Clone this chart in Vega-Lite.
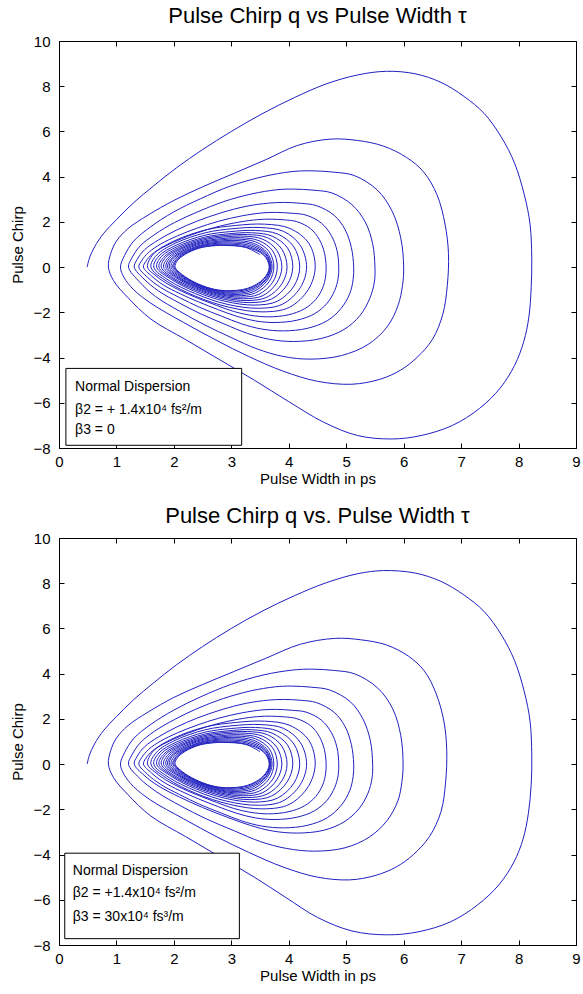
{
  "$schema": "https://vega.github.io/schema/vega-lite/v6.json",
  "background": "white",
  "padding": {"left": 10, "top": 4, "right": 5, "bottom": 5},
  "config": {
    "font": "Liberation Sans",
    "view": {"stroke": "#000000", "strokeWidth": 1},
    "axis": {
      "grid": false, "domain": false, "tickColor": "#000000", "tickSize": -5, "tickWidth": 1,
      "labelFlush": false, "labelOverlap": false,
      "labelFont": "Liberation Sans", "labelFontSize": 15, "labelColor": "#000000",
      "titleFont": "Liberation Sans", "titleFontSize": 15, "titleColor": "#000000", "titleFontWeight": "normal"
    },
    "title": {"font": "Liberation Sans", "fontSize": 22, "fontWeight": "normal", "color": "#000000", "anchor": "middle", "frame": "group"}
  },
  "datasets": {
    "spiral": [
      {"panel":"top","tau":0.49,"q":0},{"panel":"top","tau":0.53,"q":0.4},{"panel":"top","tau":0.62,"q":0.9},{"panel":"top","tau":0.78,"q":1.5},{"panel":"top","tau":1.0,"q":2.1},{"panel":"top","tau":1.3,"q":2.85},{"panel":"top","tau":1.65,"q":3.6},{"panel":"top","tau":2.05,"q":4.4},{"panel":"top","tau":2.5,"q":5.2},{"panel":"top","tau":3.0,"q":6.0},{"panel":"top","tau":3.55,"q":6.8},{"panel":"top","tau":4.1,"q":7.5},{"panel":"top","tau":4.65,"q":8.1},{"panel":"top","tau":5.2,"q":8.5},{"panel":"top","tau":5.7,"q":8.66},{"panel":"top","tau":6.2,"q":8.55},{"panel":"top","tau":6.65,"q":8.17},{"panel":"top","tau":7.05,"q":7.55},{"panel":"top","tau":7.4,"q":6.8},{"panel":"top","tau":7.7,"q":5.75},{"panel":"top","tau":7.93,"q":4.6},{"panel":"top","tau":8.1,"q":3.2},{"panel":"top","tau":8.2,"q":1.9},{"panel":"top","tau":8.23,"q":0.4},{"panel":"top","tau":8.22,"q":-0.9},{"panel":"top","tau":8.18,"q":-2.2},{"panel":"top","tau":8.09,"q":-3.3},{"panel":"top","tau":7.93,"q":-4.35},{"panel":"top","tau":7.68,"q":-5.35},{"panel":"top","tau":7.32,"q":-6.25},{"panel":"top","tau":6.85,"q":-7.0},{"panel":"top","tau":6.3,"q":-7.45},{"panel":"top","tau":5.8,"q":-7.6},{"panel":"top","tau":5.2,"q":-7.45},{"panel":"top","tau":4.6,"q":-6.85},{"panel":"top","tau":4.0,"q":-5.95},{"panel":"top","tau":3.4,"q":-5.0},{"panel":"top","tau":2.8,"q":-4.1},{"panel":"top","tau":2.2,"q":-3.2},{"panel":"top","tau":1.6,"q":-2.3},{"panel":"top","tau":1.2,"q":-1.35},{"panel":"top","tau":0.95,"q":-0.6},{"panel":"top","tau":0.86,"q":0},
      {"panel":"top","tau":0.9,"q":0.6},{"panel":"top","tau":1.0,"q":1.15},{"panel":"top","tau":1.2,"q":1.7},{"panel":"top","tau":1.55,"q":2.3},{"panel":"top","tau":2.0,"q":2.95},{"panel":"top","tau":2.5,"q":3.55},{"panel":"top","tau":3.05,"q":4.15},{"panel":"top","tau":3.6,"q":4.75},{"panel":"top","tau":4.15,"q":5.38},{"panel":"top","tau":4.72,"q":5.66},{"panel":"top","tau":5.2,"q":5.6},{"panel":"top","tau":5.65,"q":5.35},{"panel":"top","tau":6.05,"q":4.85},{"panel":"top","tau":6.35,"q":4.2},{"panel":"top","tau":6.58,"q":3.2},{"panel":"top","tau":6.72,"q":1.9},{"panel":"top","tau":6.78,"q":0.6},{"panel":"top","tau":6.76,"q":-0.8},{"panel":"top","tau":6.68,"q":-2.1},{"panel":"top","tau":6.5,"q":-3.2},{"panel":"top","tau":6.23,"q":-4.0},{"panel":"top","tau":5.95,"q":-4.55},{"panel":"top","tau":5.6,"q":-4.95},{"panel":"top","tau":5.1,"q":-5.18},{"panel":"top","tau":4.5,"q":-5.05},{"panel":"top","tau":3.9,"q":-4.6},{"panel":"top","tau":3.3,"q":-3.95},{"panel":"top","tau":2.75,"q":-3.25},{"panel":"top","tau":2.17,"q":-2.45},{"panel":"top","tau":1.6,"q":-1.6},{"panel":"top","tau":1.3,"q":-1.0},{"panel":"top","tau":1.13,"q":-0.45},{"panel":"top","tau":1.07,"q":0},
      {"panel":"top","tau":1.14,"q":0.51},{"panel":"top","tau":1.3,"q":1.15},{"panel":"top","tau":1.6,"q":1.79},{"panel":"top","tau":1.99,"q":2.43},{"panel":"top","tau":2.46,"q":3.02},{"panel":"top","tau":2.98,"q":3.58},{"panel":"top","tau":3.55,"q":4.0},{"panel":"top","tau":4.04,"q":4.22},{"panel":"top","tau":4.37,"q":4.26},{"panel":"top","tau":4.78,"q":4.2},{"panel":"top","tau":5.14,"q":4.05},{"panel":"top","tau":5.54,"q":3.41},{"panel":"top","tau":5.8,"q":2.47},{"panel":"top","tau":5.95,"q":1.28},{"panel":"top","tau":6.0,"q":0},{"panel":"top","tau":5.98,"q":-0.81},{"panel":"top","tau":5.9,"q":-1.71},{"panel":"top","tau":5.71,"q":-2.65},{"panel":"top","tau":5.38,"q":-3.42},{"panel":"top","tau":4.92,"q":-3.91},{"panel":"top","tau":4.37,"q":-4.07},{"panel":"top","tau":3.9,"q":-3.95},{"panel":"top","tau":3.45,"q":-3.62},{"panel":"top","tau":3.01,"q":-3.13},{"panel":"top","tau":2.54,"q":-2.56},{"panel":"top","tau":2.1,"q":-1.95},{"panel":"top","tau":1.68,"q":-1.3},{"panel":"top","tau":1.4,"q":-0.65},{"panel":"top","tau":1.21,"q":0},
      {"panel":"top","tau":1.27,"q":0.41},{"panel":"top","tau":1.41,"q":0.93},{"panel":"top","tau":1.67,"q":1.45},{"panel":"top","tau":2.01,"q":1.97},{"panel":"top","tau":2.42,"q":2.45},{"panel":"top","tau":2.87,"q":2.9},{"panel":"top","tau":3.36,"q":3.24},{"panel":"top","tau":3.79,"q":3.42},{"panel":"top","tau":4.08,"q":3.45},{"panel":"top","tau":4.44,"q":3.4},{"panel":"top","tau":4.75,"q":3.28},{"panel":"top","tau":5.1,"q":2.76},{"panel":"top","tau":5.33,"q":2.0},{"panel":"top","tau":5.46,"q":1.04},{"panel":"top","tau":5.5,"q":0},{"panel":"top","tau":5.49,"q":-0.66},{"panel":"top","tau":5.41,"q":-1.38},{"panel":"top","tau":5.24,"q":-2.14},{"panel":"top","tau":4.96,"q":-2.76},{"panel":"top","tau":4.56,"q":-3.16},{"panel":"top","tau":4.08,"q":-3.29},{"panel":"top","tau":3.66,"q":-3.19},{"panel":"top","tau":3.28,"q":-2.93},{"panel":"top","tau":2.89,"q":-2.53},{"panel":"top","tau":2.47,"q":-2.07},{"panel":"top","tau":2.09,"q":-1.58},{"panel":"top","tau":1.73,"q":-1.05},{"panel":"top","tau":1.48,"q":-0.53},{"panel":"top","tau":1.31,"q":0},

      {"panel":"bottom","tau":0.49,"q":0},{"panel":"bottom","tau":0.53,"q":0.4},{"panel":"bottom","tau":0.62,"q":0.9},{"panel":"bottom","tau":0.78,"q":1.5},{"panel":"bottom","tau":1.0,"q":2.1},{"panel":"bottom","tau":1.3,"q":2.85},{"panel":"bottom","tau":1.65,"q":3.6},{"panel":"bottom","tau":2.05,"q":4.4},{"panel":"bottom","tau":2.5,"q":5.2},{"panel":"bottom","tau":3.0,"q":6.0},{"panel":"bottom","tau":3.55,"q":6.78},{"panel":"bottom","tau":4.1,"q":7.45},{"panel":"bottom","tau":4.65,"q":8.02},{"panel":"bottom","tau":5.2,"q":8.42},{"panel":"bottom","tau":5.65,"q":8.56},{"panel":"bottom","tau":6.2,"q":8.45},{"panel":"bottom","tau":6.65,"q":8.08},{"panel":"bottom","tau":7.05,"q":7.48},{"panel":"bottom","tau":7.4,"q":6.75},{"panel":"bottom","tau":7.7,"q":5.72},{"panel":"bottom","tau":7.93,"q":4.58},{"panel":"bottom","tau":8.1,"q":3.2},{"panel":"bottom","tau":8.2,"q":1.9},{"panel":"bottom","tau":8.23,"q":0.4},{"panel":"bottom","tau":8.22,"q":-0.9},{"panel":"bottom","tau":8.17,"q":-2.2},{"panel":"bottom","tau":8.08,"q":-3.3},{"panel":"bottom","tau":7.92,"q":-4.33},{"panel":"bottom","tau":7.66,"q":-5.33},{"panel":"bottom","tau":7.29,"q":-6.22},{"panel":"bottom","tau":6.82,"q":-6.97},{"panel":"bottom","tau":6.25,"q":-7.42},{"panel":"bottom","tau":5.7,"q":-7.55},{"panel":"bottom","tau":5.1,"q":-7.38},{"panel":"bottom","tau":4.5,"q":-6.78},{"panel":"bottom","tau":3.95,"q":-5.9},{"panel":"bottom","tau":3.4,"q":-5.0},{"panel":"bottom","tau":2.8,"q":-4.1},{"panel":"bottom","tau":2.2,"q":-3.2},{"panel":"bottom","tau":1.6,"q":-2.3},{"panel":"bottom","tau":1.2,"q":-1.35},{"panel":"bottom","tau":0.95,"q":-0.6},{"panel":"bottom","tau":0.86,"q":0},
      {"panel":"bottom","tau":0.9,"q":0.6},{"panel":"bottom","tau":1.0,"q":1.15},{"panel":"bottom","tau":1.2,"q":1.7},{"panel":"bottom","tau":1.55,"q":2.3},{"panel":"bottom","tau":2.0,"q":2.95},{"panel":"bottom","tau":2.5,"q":3.52},{"panel":"bottom","tau":3.05,"q":4.1},{"panel":"bottom","tau":3.6,"q":4.68},{"panel":"bottom","tau":4.2,"q":5.3},{"panel":"bottom","tau":4.8,"q":5.56},{"panel":"bottom","tau":5.25,"q":5.5},{"panel":"bottom","tau":5.7,"q":5.27},{"panel":"bottom","tau":6.08,"q":4.78},{"panel":"bottom","tau":6.36,"q":4.12},{"panel":"bottom","tau":6.56,"q":3.15},{"panel":"bottom","tau":6.7,"q":1.9},{"panel":"bottom","tau":6.75,"q":0.6},{"panel":"bottom","tau":6.73,"q":-0.8},{"panel":"bottom","tau":6.65,"q":-2.1},{"panel":"bottom","tau":6.45,"q":-3.2},{"panel":"bottom","tau":6.17,"q":-4.0},{"panel":"bottom","tau":5.87,"q":-4.55},{"panel":"bottom","tau":5.5,"q":-4.93},{"panel":"bottom","tau":5.06,"q":-5.12},{"panel":"bottom","tau":4.5,"q":-5.0},{"panel":"bottom","tau":3.9,"q":-4.55},{"panel":"bottom","tau":3.3,"q":-3.9},{"panel":"bottom","tau":2.75,"q":-3.22},{"panel":"bottom","tau":2.17,"q":-2.42},{"panel":"bottom","tau":1.6,"q":-1.6},{"panel":"bottom","tau":1.3,"q":-1.0},{"panel":"bottom","tau":1.13,"q":-0.45},{"panel":"bottom","tau":1.07,"q":0},
      {"panel":"bottom","tau":1.14,"q":0.5},{"panel":"bottom","tau":1.3,"q":1.13},{"panel":"bottom","tau":1.6,"q":1.76},{"panel":"bottom","tau":2.0,"q":2.39},{"panel":"bottom","tau":2.47,"q":2.98},{"panel":"bottom","tau":3.0,"q":3.53},{"panel":"bottom","tau":3.57,"q":3.95},{"panel":"bottom","tau":4.07,"q":4.16},{"panel":"bottom","tau":4.4,"q":4.2},{"panel":"bottom","tau":4.8,"q":4.14},{"panel":"bottom","tau":5.15,"q":3.99},{"panel":"bottom","tau":5.55,"q":3.36},{"panel":"bottom","tau":5.81,"q":2.44},{"panel":"bottom","tau":5.95,"q":1.26},{"panel":"bottom","tau":5.99,"q":0},{"panel":"bottom","tau":5.97,"q":-0.77},{"panel":"bottom","tau":5.9,"q":-1.62},{"panel":"bottom","tau":5.71,"q":-2.5},{"panel":"bottom","tau":5.4,"q":-3.23},{"panel":"bottom","tau":4.98,"q":-3.7},{"panel":"bottom","tau":4.45,"q":-3.85},{"panel":"bottom","tau":3.96,"q":-3.73},{"panel":"bottom","tau":3.51,"q":-3.43},{"panel":"bottom","tau":3.06,"q":-2.96},{"panel":"bottom","tau":2.57,"q":-2.43},{"panel":"bottom","tau":2.12,"q":-1.85},{"panel":"bottom","tau":1.7,"q":-1.23},{"panel":"bottom","tau":1.4,"q":-0.62},{"panel":"bottom","tau":1.21,"q":0},
      {"panel":"bottom","tau":1.27,"q":0.41},{"panel":"bottom","tau":1.41,"q":0.93},{"panel":"bottom","tau":1.66,"q":1.45},{"panel":"bottom","tau":2.01,"q":1.97},{"panel":"bottom","tau":2.4,"q":2.45},{"panel":"bottom","tau":2.86,"q":2.9},{"panel":"bottom","tau":3.34,"q":3.24},{"panel":"bottom","tau":3.77,"q":3.42},{"panel":"bottom","tau":4.05,"q":3.45},{"panel":"bottom","tau":4.4,"q":3.4},{"panel":"bottom","tau":4.71,"q":3.28},{"panel":"bottom","tau":5.07,"q":2.76},{"panel":"bottom","tau":5.29,"q":2.0},{"panel":"bottom","tau":5.42,"q":1.04},{"panel":"bottom","tau":5.46,"q":0},{"panel":"bottom","tau":5.45,"q":-0.61},{"panel":"bottom","tau":5.38,"q":-1.28},{"panel":"bottom","tau":5.22,"q":-1.98},{"panel":"bottom","tau":4.96,"q":-2.56},{"panel":"bottom","tau":4.6,"q":-2.93},{"panel":"bottom","tau":4.15,"q":-3.05},{"panel":"bottom","tau":3.72,"q":-2.96},{"panel":"bottom","tau":3.33,"q":-2.71},{"panel":"bottom","tau":2.93,"q":-2.35},{"panel":"bottom","tau":2.5,"q":-1.92},{"panel":"bottom","tau":2.1,"q":-1.46},{"panel":"bottom","tau":1.74,"q":-0.98},{"panel":"bottom","tau":1.48,"q":-0.49},{"panel":"bottom","tau":1.31,"q":0},

      {"panel":"both","tau":1.36,"q":0.34},{"panel":"both","tau":1.49,"q":0.77},{"panel":"both","tau":1.73,"q":1.2},{"panel":"both","tau":2.04,"q":1.63},{"panel":"both","tau":2.4,"q":2.03},{"panel":"both","tau":2.82,"q":2.4},{"panel":"both","tau":3.26,"q":2.69},{"panel":"both","tau":3.65,"q":2.83},{"panel":"both","tau":3.91,"q":2.86},{"panel":"both","tau":4.22,"q":2.82},{"panel":"both","tau":4.48,"q":2.72},{"panel":"both","tau":4.79,"q":2.29},{"panel":"both","tau":4.98,"q":1.66},{"panel":"both","tau":5.09,"q":0.86},{"panel":"both","tau":5.13,"q":0},{"panel":"both","tau":5.12,"q":-0.56},{"panel":"both","tau":5.06,"q":-1.18},{"panel":"both","tau":4.91,"q":-1.83},{"panel":"both","tau":4.67,"q":-2.37},{"panel":"both","tau":4.32,"q":-2.71},{"panel":"both","tau":3.91,"q":-2.82},{"panel":"both","tau":3.53,"q":-2.74},{"panel":"both","tau":3.18,"q":-2.51},{"panel":"both","tau":2.83,"q":-2.17},{"panel":"both","tau":2.45,"q":-1.78},{"panel":"both","tau":2.1,"q":-1.35},{"panel":"both","tau":1.77,"q":-0.9},{"panel":"both","tau":1.54,"q":-0.45},{"panel":"both","tau":1.39,"q":0},
      {"panel":"both","tau":1.44,"q":0.29},{"panel":"both","tau":1.56,"q":0.65},{"panel":"both","tau":1.77,"q":1.02},{"panel":"both","tau":2.06,"q":1.38},{"panel":"both","tau":2.4,"q":1.72},{"panel":"both","tau":2.78,"q":2.03},{"panel":"both","tau":3.19,"q":2.27},{"panel":"both","tau":3.55,"q":2.4},{"panel":"both","tau":3.79,"q":2.42},{"panel":"both","tau":4.06,"q":2.38},{"panel":"both","tau":4.3,"q":2.3},{"panel":"both","tau":4.57,"q":1.94},{"panel":"both","tau":4.74,"q":1.4},{"panel":"both","tau":4.84,"q":0.73},{"panel":"both","tau":4.87,"q":0},{"panel":"both","tau":4.86,"q":-0.49},{"panel":"both","tau":4.8,"q":-1.03},{"panel":"both","tau":4.67,"q":-1.59},{"panel":"both","tau":4.45,"q":-2.06},{"panel":"both","tau":4.14,"q":-2.35},{"panel":"both","tau":3.76,"q":-2.45},{"panel":"both","tau":3.42,"q":-2.38},{"panel":"both","tau":3.1,"q":-2.18},{"panel":"both","tau":2.78,"q":-1.89},{"panel":"both","tau":2.43,"q":-1.54},{"panel":"both","tau":2.11,"q":-1.18},{"panel":"both","tau":1.81,"q":-0.78},{"panel":"both","tau":1.61,"q":-0.39},{"panel":"both","tau":1.47,"q":0},
      {"panel":"both","tau":1.51,"q":0.25},{"panel":"both","tau":1.62,"q":0.57},{"panel":"both","tau":1.82,"q":0.89},{"panel":"both","tau":2.09,"q":1.21},{"panel":"both","tau":2.4,"q":1.51},{"panel":"both","tau":2.75,"q":1.78},{"panel":"both","tau":3.13,"q":1.99},{"panel":"both","tau":3.46,"q":2.1},{"panel":"both","tau":3.68,"q":2.12},{"panel":"both","tau":3.92,"q":2.09},{"panel":"both","tau":4.14,"q":2.01},{"panel":"both","tau":4.38,"q":1.7},{"panel":"both","tau":4.53,"q":1.23},{"panel":"both","tau":4.62,"q":0.64},{"panel":"both","tau":4.65,"q":0},{"panel":"both","tau":4.64,"q":-0.44},{"panel":"both","tau":4.59,"q":-0.92},{"panel":"both","tau":4.47,"q":-1.43},{"panel":"both","tau":4.27,"q":-1.85},{"panel":"both","tau":3.99,"q":-2.11},{"panel":"both","tau":3.65,"q":-2.2},{"panel":"both","tau":3.33,"q":-2.13},{"panel":"both","tau":3.04,"q":-1.96},{"panel":"both","tau":2.74,"q":-1.69},{"panel":"both","tau":2.43,"q":-1.39},{"panel":"both","tau":2.13,"q":-1.06},{"panel":"both","tau":1.86,"q":-0.7},{"panel":"both","tau":1.67,"q":-0.35},{"panel":"both","tau":1.54,"q":0},
      {"panel":"both","tau":1.64,"q":0.57},{"panel":"both","tau":1.99,"q":1.14},{"panel":"both","tau":2.56,"q":1.65},{"panel":"both","tau":3.07,"q":1.84},{"panel":"both","tau":3.58,"q":1.9},{"panel":"both","tau":4.02,"q":1.71},{"panel":"both","tau":4.35,"q":1.05},{"panel":"both","tau":4.46,"q":0},{"panel":"both","tau":4.34,"q":-0.99},{"panel":"both","tau":4.01,"q":-1.78},{"panel":"both","tau":3.55,"q":-1.98},{"panel":"both","tau":2.97,"q":-1.78},{"panel":"both","tau":2.38,"q":-1.29},{"panel":"both","tau":1.89,"q":-0.65},{"panel":"both","tau":1.6,"q":0},
      {"panel":"both","tau":1.7,"q":0.53},{"panel":"both","tau":2.02,"q":1.05},{"panel":"both","tau":2.55,"q":1.52},{"panel":"both","tau":3.03,"q":1.7},{"panel":"both","tau":3.5,"q":1.75},{"panel":"both","tau":3.91,"q":1.58},{"panel":"both","tau":4.2,"q":0.96},{"panel":"both","tau":4.31,"q":0},{"panel":"both","tau":4.2,"q":-0.91},{"panel":"both","tau":3.89,"q":-1.64},{"panel":"both","tau":3.47,"q":-1.82},{"panel":"both","tau":2.92,"q":-1.64},{"panel":"both","tau":2.38,"q":-1.18},{"panel":"both","tau":1.92,"q":-0.6},{"panel":"both","tau":1.65,"q":0},
      {"panel":"both","tau":1.74,"q":0.49},{"panel":"both","tau":2.04,"q":0.97},{"panel":"both","tau":2.54,"q":1.41},{"panel":"both","tau":2.98,"q":1.57},{"panel":"both","tau":3.42,"q":1.62},{"panel":"both","tau":3.81,"q":1.46},{"panel":"both","tau":4.09,"q":0.89},{"panel":"both","tau":4.19,"q":0},{"panel":"both","tau":4.09,"q":-0.84},{"panel":"both","tau":3.8,"q":-1.51},{"panel":"both","tau":3.4,"q":-1.68},{"panel":"both","tau":2.89,"q":-1.51},{"panel":"both","tau":2.38,"q":-1.09},{"panel":"both","tau":1.96,"q":-0.55},{"panel":"both","tau":1.7,"q":0},
      {"panel":"both","tau":1.78,"q":0.46},{"panel":"both","tau":2.06,"q":0.91},{"panel":"both","tau":2.53,"q":1.32},{"panel":"both","tau":2.94,"q":1.47},{"panel":"both","tau":3.35,"q":1.52},{"panel":"both","tau":3.71,"q":1.37},{"panel":"both","tau":3.98,"q":0.84},{"panel":"both","tau":4.07,"q":0},{"panel":"both","tau":3.97,"q":-0.79},{"panel":"both","tau":3.7,"q":-1.41},{"panel":"both","tau":3.33,"q":-1.57},{"panel":"both","tau":2.85,"q":-1.41},{"panel":"both","tau":2.38,"q":-1.02},{"panel":"both","tau":1.98,"q":-0.52},{"panel":"both","tau":1.74,"q":0},
      {"panel":"both","tau":1.82,"q":0.43},{"panel":"both","tau":2.08,"q":0.86},{"panel":"both","tau":2.51,"q":1.25},{"panel":"both","tau":2.9,"q":1.4},{"panel":"both","tau":3.28,"q":1.44},{"panel":"both","tau":3.63,"q":1.3},{"panel":"both","tau":3.88,"q":0.79},{"panel":"both","tau":3.97,"q":0},{"panel":"both","tau":3.88,"q":-0.74},{"panel":"both","tau":3.62,"q":-1.33},{"panel":"both","tau":3.27,"q":-1.48},{"panel":"both","tau":2.82,"q":-1.33},{"panel":"both","tau":2.38,"q":-0.96},{"panel":"both","tau":2.0,"q":-0.49},{"panel":"both","tau":1.78,"q":0},
      {"panel":"both","tau":1.85,"q":0.41},{"panel":"both","tau":2.1,"q":0.82},{"panel":"both","tau":2.5,"q":1.19},{"panel":"both","tau":2.86,"q":1.33},{"panel":"both","tau":3.22,"q":1.37},{"panel":"both","tau":3.55,"q":1.23},{"panel":"both","tau":3.79,"q":0.75},{"panel":"both","tau":3.88,"q":0},{"panel":"both","tau":3.79,"q":-0.7},{"panel":"both","tau":3.55,"q":-1.26},{"panel":"both","tau":3.21,"q":-1.4},{"panel":"both","tau":2.79,"q":-1.26},{"panel":"both","tau":2.38,"q":-0.91},{"panel":"both","tau":2.03,"q":-0.46},{"panel":"both","tau":1.82,"q":0},
      {"panel":"both","tau":1.89,"q":0.39},{"panel":"both","tau":2.11,"q":0.78},{"panel":"both","tau":2.49,"q":1.13},{"panel":"both","tau":2.83,"q":1.26},{"panel":"both","tau":3.16,"q":1.3},{"panel":"both","tau":3.48,"q":1.17},{"panel":"both","tau":3.72,"q":0.72},{"panel":"both","tau":3.8,"q":0},{"panel":"both","tau":3.72,"q":-0.67},{"panel":"both","tau":3.48,"q":-1.2},{"panel":"both","tau":3.16,"q":-1.33},{"panel":"both","tau":2.77,"q":-1.2},{"panel":"both","tau":2.38,"q":-0.86},{"panel":"both","tau":2.05,"q":-0.44},{"panel":"both","tau":1.86,"q":0},
      {"panel":"both","tau":1.92,"q":0.37},{"panel":"both","tau":2.13,"q":0.74},{"panel":"both","tau":2.48,"q":1.08},{"panel":"both","tau":2.79,"q":1.2},{"panel":"both","tau":3.1,"q":1.24},{"panel":"both","tau":3.42,"q":1.12},{"panel":"both","tau":3.66,"q":0.68},{"panel":"both","tau":3.74,"q":0},{"panel":"both","tau":3.66,"q":-0.64},{"panel":"both","tau":3.42,"q":-1.14},{"panel":"both","tau":3.1,"q":-1.27},{"panel":"both","tau":2.74,"q":-1.14},{"panel":"both","tau":2.37,"q":-0.83},{"panel":"both","tau":2.07,"q":-0.42},{"panel":"both","tau":1.89,"q":0},
      {"panel":"both","tau":1.95,"q":0.35},{"panel":"both","tau":2.15,"q":0.71},{"panel":"both","tau":2.47,"q":1.03},{"panel":"both","tau":2.76,"q":1.14},{"panel":"both","tau":3.05,"q":1.18},{"panel":"both","tau":3.38,"q":1.06},{"panel":"both","tau":3.62,"q":0.65},{"panel":"both","tau":3.71,"q":0},{"panel":"both","tau":3.62,"q":-0.61},{"panel":"both","tau":3.38,"q":-1.09},{"panel":"both","tau":3.05,"q":-1.21},{"panel":"both","tau":2.71,"q":-1.09},{"panel":"both","tau":2.37,"q":-0.79},{"panel":"both","tau":2.09,"q":-0.4},{"panel":"both","tau":1.92,"q":0},
      {"panel":"both","tau":1.97,"q":0.34},{"panel":"both","tau":2.16,"q":0.67},{"panel":"both","tau":2.46,"q":0.97},{"panel":"both","tau":2.73,"q":1.09},{"panel":"both","tau":3.0,"q":1.12},{"panel":"both","tau":3.35,"q":1.01},{"panel":"both","tau":3.6,"q":0.62},{"panel":"both","tau":3.69,"q":0},{"panel":"both","tau":3.6,"q":-0.58},{"panel":"both","tau":3.35,"q":-1.04},{"panel":"both","tau":3.0,"q":-1.16},{"panel":"both","tau":2.69,"q":-1.04},{"panel":"both","tau":2.37,"q":-0.75},{"panel":"both","tau":2.11,"q":-0.38},{"panel":"both","tau":1.95,"q":0},
      {"panel":"both","tau":2.0,"q":0.32},{"panel":"both","tau":2.17,"q":0.64},{"panel":"both","tau":2.45,"q":0.93},{"panel":"both","tau":2.7,"q":1.04},{"panel":"both","tau":2.95,"q":1.07},{"panel":"both","tau":3.32,"q":0.96},{"panel":"both","tau":3.59,"q":0.59},{"panel":"both","tau":3.68,"q":0},{"panel":"both","tau":3.59,"q":-0.56},{"panel":"both","tau":3.32,"q":-1.0},{"panel":"both","tau":2.96,"q":-1.11},{"panel":"both","tau":2.67,"q":-1.0},{"panel":"both","tau":2.37,"q":-0.72},{"panel":"both","tau":2.13,"q":-0.37},{"panel":"both","tau":1.98,"q":0},
      {"panel":"both","tau":2.03,"q":0.31},{"panel":"both","tau":2.18,"q":0.61},{"panel":"both","tau":2.44,"q":0.89},{"panel":"both","tau":2.67,"q":0.99},{"panel":"both","tau":2.9,"q":1.02},{"panel":"both","tau":3.29,"q":0.92},{"panel":"both","tau":3.57,"q":0.56},{"panel":"both","tau":3.67,"q":0},{"panel":"both","tau":3.57,"q":-0.54},{"panel":"both","tau":3.3,"q":-0.96},{"panel":"both","tau":2.92,"q":-1.07},{"panel":"both","tau":2.64,"q":-0.96},{"panel":"both","tau":2.37,"q":-0.7},{"panel":"both","tau":2.14,"q":-0.35},{"panel":"both","tau":2.0,"q":0},
      {"panel":"both","tau":2.04,"q":0.29},{"panel":"both","tau":2.19,"q":0.59},{"panel":"both","tau":2.43,"q":0.85},{"panel":"both","tau":2.65,"q":0.95},{"panel":"both","tau":2.86,"q":0.98},{"panel":"both","tau":3.26,"q":0.88},{"panel":"both","tau":3.56,"q":0.54},{"panel":"both","tau":3.66,"q":0},{"panel":"both","tau":3.56,"q":-0.52},{"panel":"both","tau":3.28,"q":-0.94},{"panel":"both","tau":2.9,"q":-1.04},{"panel":"both","tau":2.64,"q":-0.94},{"panel":"both","tau":2.37,"q":-0.68},{"panel":"both","tau":2.15,"q":-0.34},{"panel":"both","tau":2.02,"q":0},
      {"panel":"both","tau":2.06,"q":0.28},{"panel":"both","tau":2.2,"q":0.57},{"panel":"both","tau":2.43,"q":0.83},{"panel":"both","tau":2.64,"q":0.93},{"panel":"both","tau":2.85,"q":0.96},{"panel":"both","tau":3.25,"q":0.87},{"panel":"both","tau":3.5,"q":0.55}
    ]
  },
  "spacing": 90,
  "bounds": "flush",
  "vconcat": [
    {
      "width": 517,
      "height": 407,
      "title": {"text": "Pulse Chirp q vs Pulse Width  τ", "offset": 6},
      "layer": [
        {
          "data": {"name": "spiral"},
          "transform": [{"filter": {"field": "panel", "oneOf": ["top", "both"]}}],
          "mark": {"type": "line", "interpolate": "catmull-rom", "color": "#2020c0", "strokeWidth": 1},
          "encoding": {
            "x": {"field": "tau", "type": "quantitative", "scale": {"domain": [0, 9], "nice": false, "zero": false},
                  "axis": {"orient": "bottom", "title": "Pulse Width in ps", "values": [0,1,2,3,4,5,6,7,8,9], "labelPadding": 11, "minExtent": 20, "maxExtent": 20, "titlePadding": 3}},
            "y": {"field": "q", "type": "quantitative", "scale": {"domain": [-8, 10], "nice": false, "zero": false},
                  "axis": {"orient": "left", "title": "Pulse Chirp", "values": [-8,-6,-4,-2,0,2,4,6,8,10], "labelPadding": 14, "minExtent": 26, "maxExtent": 26, "titlePadding": 7.5}},
            "order": {"value": null}
          }
        },
        {
          "data": {"values": [{"x1": 0.12, "x2": 3.18, "y1": -7.88, "y2": -4.48}]},
          "mark": {"type": "rect", "fill": "#ffffff", "stroke": "#000000", "strokeWidth": 1},
          "encoding": {
            "x": {"field": "x1", "type": "quantitative", "scale": {"domain": [0, 9], "nice": false, "zero": false},
                  "axis": {"orient": "top", "labels": false, "title": null, "values": [0,1,2,3,4,5,6,7,8,9]}},
            "x2": {"field": "x2"},
            "y": {"field": "y1", "type": "quantitative", "scale": {"domain": [-8, 10], "nice": false, "zero": false},
                  "axis": {"orient": "right", "labels": false, "title": null, "values": [-8,-6,-4,-2,0,2,4,6,8,10]}},
            "y2": {"field": "y2"}
          }
        },
        {
          "data": {"values": [
            {"tau": 0.28, "q": -5.47, "label": "Normal Dispersion"},
            {"tau": 0.28, "q": -6.5, "label": "β2 = + 1.4x10⁴ fs²/m"},
            {"tau": 0.28, "q": -7.4, "label": "β3 = 0"}
          ]},
          "mark": {"type": "text", "align": "left", "baseline": "alphabetic", "fontSize": 14, "font": "Liberation Sans", "color": "#000000"},
          "encoding": {
            "x": {"field": "tau", "type": "quantitative", "scale": {"domain": [0, 9], "nice": false, "zero": false}, "axis": null},
            "y": {"field": "q", "type": "quantitative", "scale": {"domain": [-8, 10], "nice": false, "zero": false}, "axis": null},
            "text": {"field": "label"}
          }
        }
      ],
      "resolve": {"axis": {"x": "independent", "y": "independent"}}
    },
    {
      "width": 517,
      "height": 407,
      "title": {"text": "Pulse Chirp q vs. Pulse Width τ", "offset": 3},
      "layer": [
        {
          "data": {"name": "spiral"},
          "transform": [{"filter": {"field": "panel", "oneOf": ["bottom", "both"]}}],
          "mark": {"type": "line", "interpolate": "catmull-rom", "color": "#2020c0", "strokeWidth": 1},
          "encoding": {
            "x": {"field": "tau", "type": "quantitative", "scale": {"domain": [0, 9], "nice": false, "zero": false},
                  "axis": {"orient": "bottom", "title": "Pulse Width in ps", "values": [0,1,2,3,4,5,6,7,8,9], "labelPadding": 11, "minExtent": 20, "maxExtent": 20, "titlePadding": 3}},
            "y": {"field": "q", "type": "quantitative", "scale": {"domain": [-8, 10], "nice": false, "zero": false},
                  "axis": {"orient": "left", "title": "Pulse Chirp", "values": [-8,-6,-4,-2,0,2,4,6,8,10], "labelPadding": 14, "minExtent": 26, "maxExtent": 26, "titlePadding": 7.5}},
            "order": {"value": null}
          }
        },
        {
          "data": {"values": [{"x1": 0.1, "x2": 3.14, "y1": -7.72, "y2": -3.94}]},
          "mark": {"type": "rect", "fill": "#ffffff", "stroke": "#000000", "strokeWidth": 1},
          "encoding": {
            "x": {"field": "x1", "type": "quantitative", "scale": {"domain": [0, 9], "nice": false, "zero": false},
                  "axis": {"orient": "top", "labels": false, "title": null, "values": [0,1,2,3,4,5,6,7,8,9]}},
            "x2": {"field": "x2"},
            "y": {"field": "y1", "type": "quantitative", "scale": {"domain": [-8, 10], "nice": false, "zero": false},
                  "axis": {"orient": "right", "labels": false, "title": null, "values": [-8,-6,-4,-2,0,2,4,6,8,10]}},
            "y2": {"field": "y2"}
          }
        },
        {
          "data": {"values": [
            {"tau": 0.24, "q": -4.89, "label": "Normal  Dispersion"},
            {"tau": 0.24, "q": -5.89, "label": "β2 = +1.4x10⁴ fs²/m"},
            {"tau": 0.24, "q": -6.95, "label": "β3 = 30x10⁴  fs³/m"}
          ]},
          "mark": {"type": "text", "align": "left", "baseline": "alphabetic", "fontSize": 14, "font": "Liberation Sans", "color": "#000000"},
          "encoding": {
            "x": {"field": "tau", "type": "quantitative", "scale": {"domain": [0, 9], "nice": false, "zero": false}, "axis": null},
            "y": {"field": "q", "type": "quantitative", "scale": {"domain": [-8, 10], "nice": false, "zero": false}, "axis": null},
            "text": {"field": "label"}
          }
        }
      ],
      "resolve": {"axis": {"x": "independent", "y": "independent"}}
    }
  ]
}
